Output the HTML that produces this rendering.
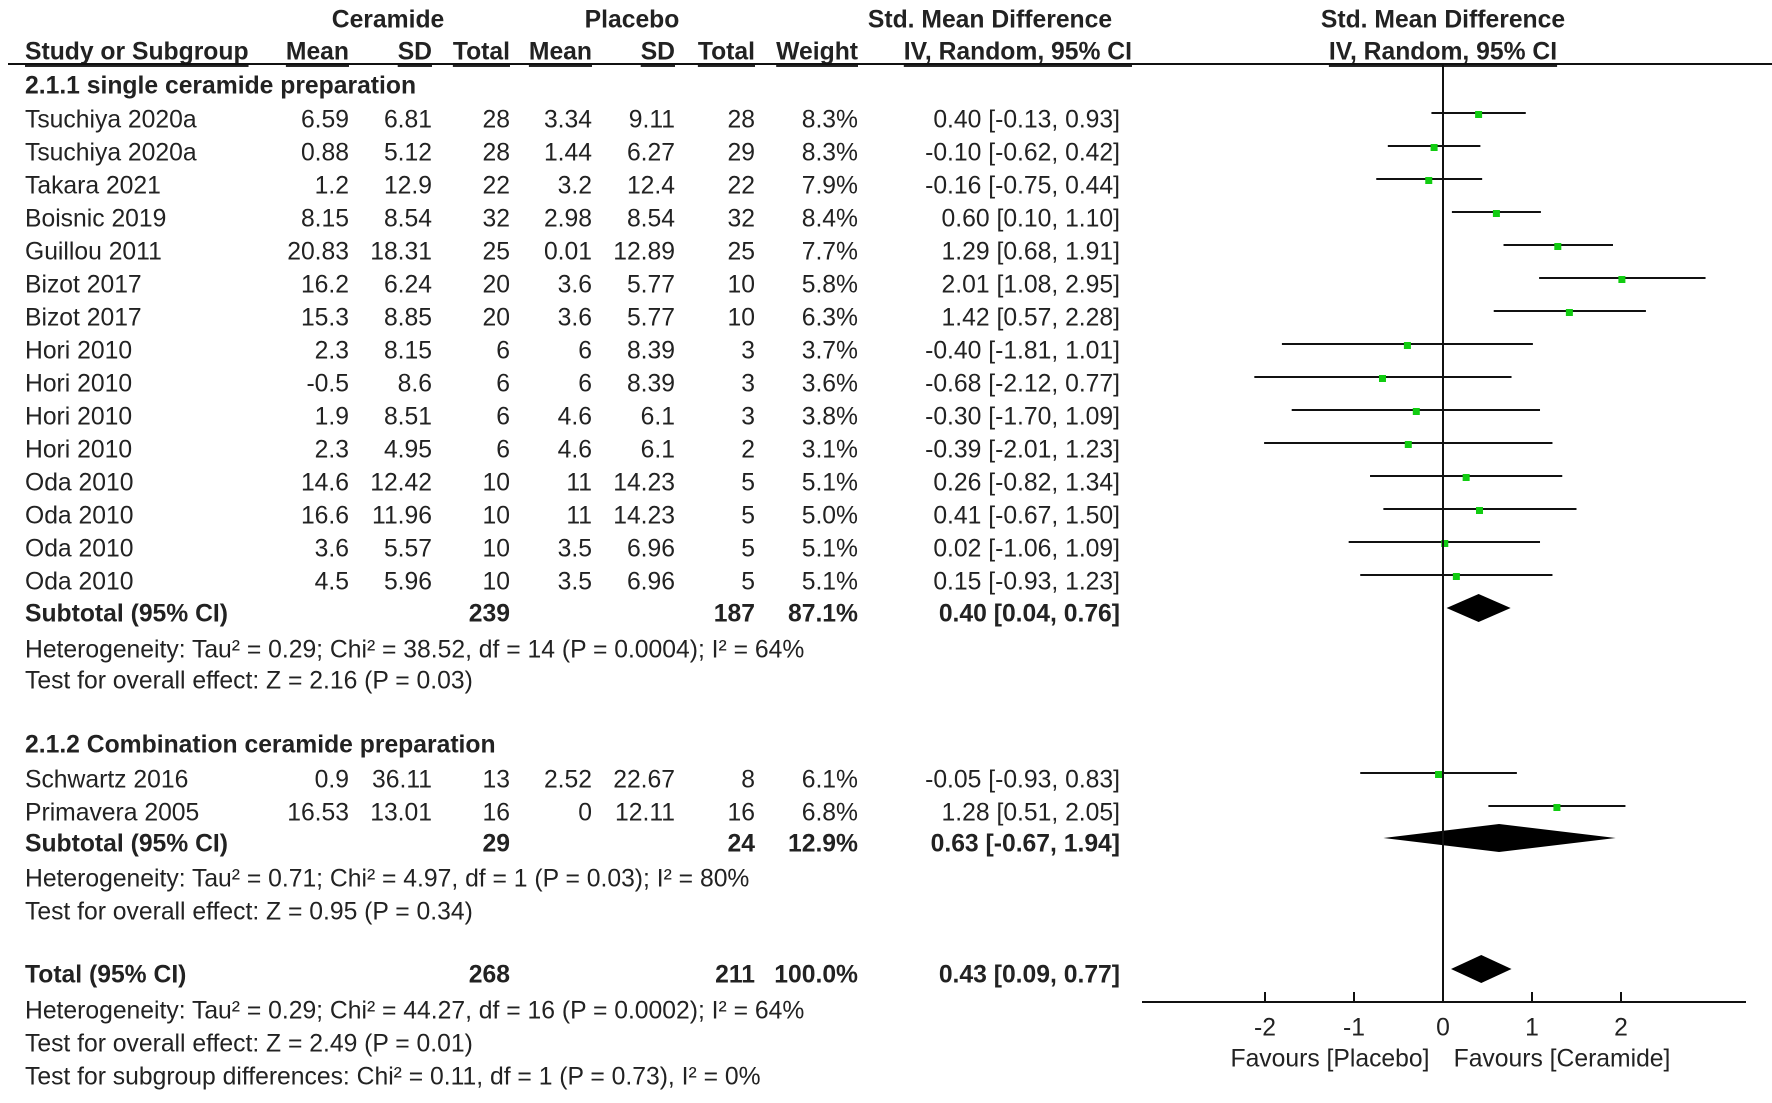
<!DOCTYPE html>
<html><head><meta charset="utf-8"><style>
html,body{margin:0;padding:0;background:#fff;}
svg{display:block;font-family:"Liberation Sans",Arial,sans-serif;font-size:24.7px;fill:#222;}
.b{font-weight:bold;}
</style></head><body>
<svg id="chart" width="1772" height="1103" viewBox="0 0 1772 1103" xmlns="http://www.w3.org/2000/svg">
<g id="hdr" class="b" dominant-baseline="central">
<text x="388" y="20" text-anchor="middle">Ceramide</text>
<text x="632" y="20" text-anchor="middle">Placebo</text>
<text x="990" y="20" text-anchor="middle">Std. Mean Difference</text>
<text x="1443" y="20" text-anchor="middle">Std. Mean Difference</text>
<text x="25" y="52" text-decoration="underline">Study or Subgroup</text>
<text x="349" y="52" text-anchor="end" text-decoration="underline">Mean</text>
<text x="432" y="52" text-anchor="end" text-decoration="underline">SD</text>
<text x="510" y="52" text-anchor="end" text-decoration="underline">Total</text>
<text x="592" y="52" text-anchor="end" text-decoration="underline">Mean</text>
<text x="675" y="52" text-anchor="end" text-decoration="underline">SD</text>
<text x="755" y="52" text-anchor="end" text-decoration="underline">Total</text>
<text x="858" y="52" text-anchor="end" text-decoration="underline">Weight</text>
<text x="1132" y="52" text-anchor="end" text-decoration="underline">IV, Random, 95% CI</text>
<text x="1443" y="52" text-anchor="middle" text-decoration="underline">IV, Random, 95% CI</text>
</g>
<line x1="8" y1="64" x2="1772" y2="64" stroke="#111" stroke-width="2"/>
<g id="rows" dominant-baseline="central"></g>
<g id="plot"></g>
</svg>
<script>
const studies = ["Tsuchiya 2020a","Tsuchiya 2020a","Takara 2021","Boisnic 2019","Guillou 2011","Bizot 2017","Bizot 2017","Hori 2010","Hori 2010","Hori 2010","Hori 2010","Oda 2010","Oda 2010","Oda 2010","Oda 2010","Schwartz 2016","Primavera 2005"];
const cerMean = ["6.59","0.88","1.2","8.15","20.83","16.2","15.3","2.3","-0.5","1.9","2.3","14.6","16.6","3.6","4.5","0.9","16.53"];
const cerSD = ["6.81","5.12","12.9","8.54","18.31","6.24","8.85","8.15","8.6","8.51","4.95","12.42","11.96","5.57","5.96","36.11","13.01"];
const cerN = [28,28,22,32,25,20,20,6,6,6,6,10,10,10,10,13,16];
const plaMean = ["3.34","1.44","3.2","2.98","0.01","3.6","3.6","6","6","4.6","4.6","11","11","3.5","3.5","2.52","0"];
const plaSD = ["9.11","6.27","12.4","8.54","12.89","5.77","5.77","8.39","8.39","6.1","6.1","14.23","14.23","6.96","6.96","22.67","12.11"];
const plaN = [28,29,22,32,25,10,10,3,3,3,2,5,5,5,5,8,16];
const weights = ["8.3%","8.3%","7.9%","8.4%","7.7%","5.8%","6.3%","3.7%","3.6%","3.8%","3.1%","5.1%","5.0%","5.1%","5.1%","6.1%","6.8%"];
const smd = [0.40,-0.10,-0.16,0.60,1.29,2.01,1.42,-0.40,-0.68,-0.30,-0.39,0.26,0.41,0.02,0.15,-0.05,1.28];
const ciLo = [-0.13,-0.62,-0.75,0.10,0.68,1.08,0.57,-1.81,-2.12,-1.70,-2.01,-0.82,-0.67,-1.06,-0.93,-0.93,0.51];
const ciHi = [0.93,0.42,0.44,1.10,1.91,2.95,2.28,1.01,0.77,1.09,1.23,1.34,1.50,1.09,1.23,0.83,2.05];
const pooledLabels = ["Subtotal (95% CI)","Subtotal (95% CI)","Total (95% CI)"];
const pooledCerN = [239,29,268];
const pooledPlaN = [187,24,211];
const pooledW = ["87.1%","12.9%","100.0%"];
const pooledEst = [0.40,0.63,0.43];
const pooledLo = [0.04,-0.67,0.09];
const pooledHi = [0.76,1.94,0.77];
const ticks = [-2,-1,0,1,2];

const NS="http://www.w3.org/2000/svg";
const X0=1443, UNIT=89, AXY=1002;
function xs(v){return X0+v*UNIT;}
function f2(v){return v.toFixed(2);}
const rowsG=document.getElementById('rows');
const plotG=document.getElementById('plot');
function txt(x,y,s,anchor,bold,name){
  const t=document.createElementNS(NS,'text');
  t.setAttribute('x',x);t.setAttribute('y',y);
  if(anchor)t.setAttribute('text-anchor',anchor);
  if(bold)t.setAttribute('class','b');
  t.textContent=s;
  
  
  rowsG.appendChild(t);return t;
}
function el(tag,attrs,name){
  const e=document.createElementNS(NS,tag);
  for(const k in attrs)e.setAttribute(k,attrs[k]);
  
  
  plotG.appendChild(e);return e;
}
const rowY=[120,153,186,219,252,285,318,351,384,417,450,483,516,549,582,780,813];
txt(25,86,"2.1.1 single ceramide preparation",null,true,'subgroup-1-heading');
txt(25,745,"2.1.2 Combination ceramide preparation",null,true,'subgroup-2-heading');
studies.forEach((s,i)=>{
  const y=rowY[i];
  txt(25,y,s,null,false,'study-name');
  txt(349,y,cerMean[i],'end',false,'ceramide-mean');
  txt(432,y,cerSD[i],'end',false,'ceramide-sd');
  txt(510,y,cerN[i],'end',false,'ceramide-total');
  txt(592,y,plaMean[i],'end',false,'placebo-mean');
  txt(675,y,plaSD[i],'end',false,'placebo-sd');
  txt(755,y,plaN[i],'end',false,'placebo-total');
  txt(858,y,weights[i],'end',false,'weight');
  txt(1120,y,f2(smd[i])+" ["+f2(ciLo[i])+", "+f2(ciHi[i])+"]",'end',false,'smd-ci');
  const my=y-7;
  el('line',{x1:xs(ciLo[i]),x2:xs(ciHi[i]),y1:my,y2:my,stroke:'#111','stroke-width':2},'ci-line');
  el('rect',{x:xs(smd[i])-3.5,y:my-2,width:7,height:7,fill:'#11cc11'},'effect-square');
});
const pY=[614,844,975];
pooledLabels.forEach((l,i)=>{
  const y=pY[i];
  txt(25,y,l,null,true,'pooled-label');
  txt(510,y,pooledCerN[i],'end',true,'pooled-ceramide-total');
  txt(755,y,pooledPlaN[i],'end',true,'pooled-placebo-total');
  txt(858,y,pooledW[i],'end',true,'pooled-weight');
  txt(1120,y,f2(pooledEst[i])+" ["+f2(pooledLo[i])+", "+f2(pooledHi[i])+"]",'end',true,'pooled-smd-ci');
  const dy=y-6;
  el('polygon',{points:`${xs(pooledLo[i])},${dy} ${xs(pooledEst[i])},${dy-14} ${xs(pooledHi[i])},${dy} ${xs(pooledEst[i])},${dy+14}`,fill:'#000'},'pooled-diamond');
});
const notes=[[650,"Heterogeneity: Tau² = 0.29; Chi² = 38.52, df = 14 (P = 0.0004); I² = 64%"],[681,"Test for overall effect: Z = 2.16 (P = 0.03)"],[879,"Heterogeneity: Tau² = 0.71; Chi² = 4.97, df = 1 (P = 0.03); I² = 80%"],[912,"Test for overall effect: Z = 0.95 (P = 0.34)"],[1011,"Heterogeneity: Tau² = 0.29; Chi² = 44.27, df = 16 (P = 0.0002); I² = 64%"],[1044,"Test for overall effect: Z = 2.49 (P = 0.01)"],[1077,"Test for subgroup differences: Chi² = 0.11, df = 1 (P = 0.73), I² = 0%"]];
notes.forEach(n=>txt(25,n[0],n[1],null,false,'statistics-note'));
el('line',{x1:X0,x2:X0,y1:64,y2:AXY,stroke:'#111','stroke-width':2},'null-effect-line');
el('line',{x1:1142,x2:1746,y1:AXY,y2:AXY,stroke:'#111','stroke-width':2},'x-axis');
ticks.forEach(t=>{
  el('line',{x1:xs(t),x2:xs(t),y1:AXY-10,y2:AXY,stroke:'#111','stroke-width':2},'x-tick');
  txt(xs(t),1028,String(t),'middle',false,'x-tick-label');
});
txt(1330,1059,"Favours [Placebo]",'middle',false,'favours-placebo-label');
txt(1562,1059,"Favours [Ceramide]",'middle',false,'favours-ceramide-label');
</script>
</body></html>
